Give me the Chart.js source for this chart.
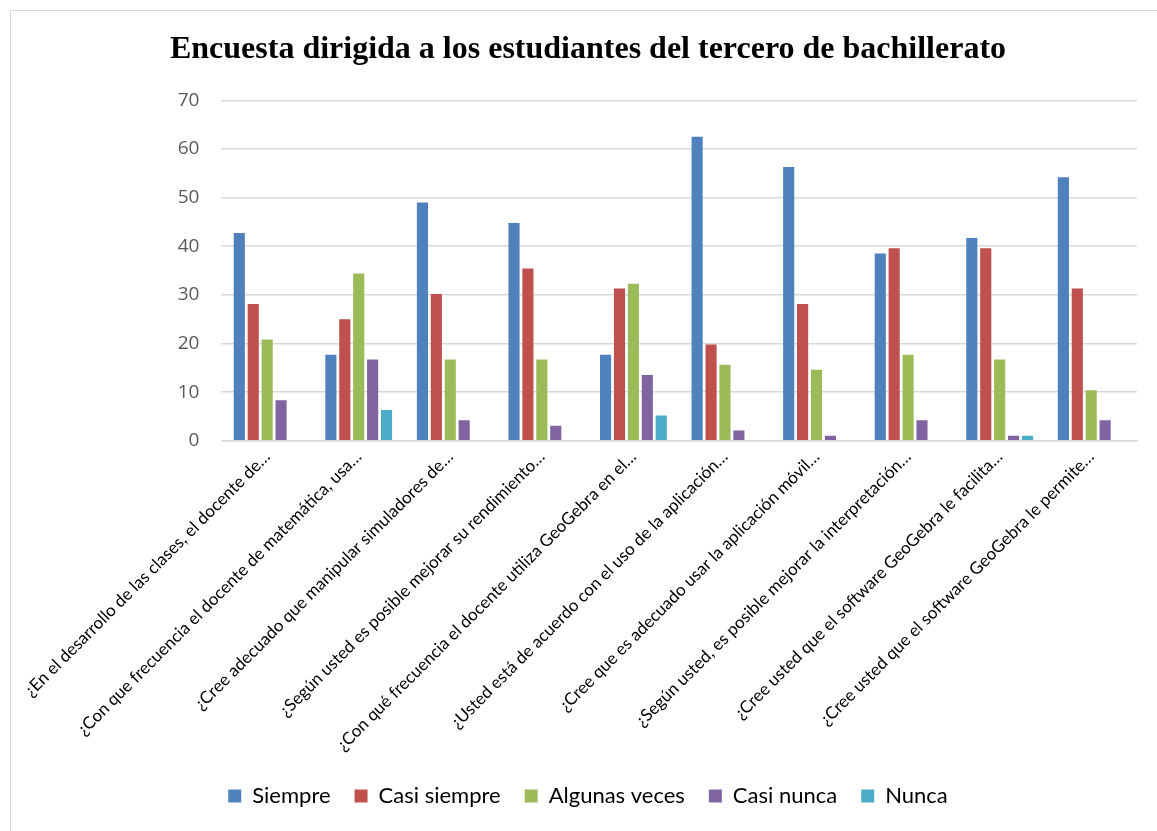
<!DOCTYPE html>
<html>
<head>
<meta charset="utf-8">
<script src="https://cdn.jsdelivr.net/npm/chart.js@4/dist/chart.umd.min.js"></script>
<style>
  html, body { margin: 0; padding: 0; background: #ffffff; overflow: hidden; }
  #frame { position: absolute; left: 10px; top: 10px; width: 1160px; height: 840px; border: 1px solid #D9D9D9; box-sizing: border-box; background: #fff; }
  #wrap { position: absolute; left: 0; top: 0; width: 1146px; height: 820px; }
</style>
</head>
<body>
<div id="frame"><div id="wrap"><canvas id="c"></canvas></div></div>
<script>
const categories = [
  "¿En el desarrollo de las clases, el docente de…",
  "¿Con que frecuencia el docente de matemática, usa…",
  "¿Cree adecuado que manipular simuladores de…",
  "¿Según usted es posible mejorar su rendimiento…",
  "¿Con qué frecuencia el docente utiliza GeoGebra en el…",
  "¿Usted está de acuerdo con el uso de la aplicación…",
  "¿Cree que es adecuado usar la aplicación móvil…",
  "¿Según usted, es posible mejorar la interpretación…",
  "¿Cree usted que el software GeoGebra le facilita…",
  "¿Cree usted que el software GeoGebra le permite…"
];
const seriesNames = ["Siempre", "Casi siempre", "Algunas veces", "Casi nunca", "Nunca"];
const siempre      = [42.7, 17.7, 49.0, 44.8, 17.7, 62.5, 56.3, 38.5, 41.7, 54.2];
const casiSiempre  = [28.1, 25.0, 30.2, 35.4, 31.3, 19.8, 28.1, 39.6, 39.6, 31.3];
const algunasVeces = [20.8, 34.4, 16.7, 16.7, 32.3, 15.6, 14.6, 17.7, 16.7, 10.4];
const casiNunca    = [8.3, 16.7, 4.2, 3.1, 13.5, 2.1, 1.0, 4.2, 1.0, 4.2];
const nunca        = [null, 6.3, null, null, 5.2, null, null, null, 1.0, null];
const yTicks = [0, 10, 20, 30, 40, 50, 60, 70];
const colors = ["#4F81BD", "#C0504D", "#9BBB59", "#8064A2", "#4BACC6"];
const seriesValues = [siempre, casiSiempre, algunasVeces, casiNunca, nunca];

const datasets = seriesNames.map((n, i) => ({
  label: n,
  data: seriesValues[i],
  backgroundColor: colors[i],
  borderWidth: 0,
  categoryPercentage: 0.76,
  barPercentage: 0.8
}));

new Chart(document.getElementById("c"), {
  type: "bar",
  data: { labels: categories, datasets },
  options: {
    responsive: true,
    maintainAspectRatio: false,
    animation: false,
    layout: { padding: { left: 28, right: 20, top: 20, bottom: 14 } },
    plugins: {
      title: {
        display: true,
        text: "Encuesta dirigida a los estudiantes del tercero de bachillerato",
        font: { family: "'Liberation Serif', 'Times New Roman', serif", size: 32, weight: "bold" },
        color: "#000000",
        padding: { top: 0, bottom: 31 }
      },
      legend: {
        position: "bottom",
        labels: {
          font: { family: "Lato, 'Open Sans', sans-serif", size: 22 },
          color: "#000000",
          boxWidth: 13,
          boxHeight: 13,
          padding: 24
        }
      },
      tooltip: { enabled: false }
    },
    scales: {
      x: {
        grid: { display: false, drawTicks: false },
        border: { display: true, color: "#D9D9D9", width: 1.5 },
        ticks: {
          autoSkip: false,
          maxRotation: 45,
          minRotation: 45,
          font: { family: "Lato, 'Open Sans', sans-serif", size: 17 },
          color: "#000000",
          padding: 6
        }
      },
      y: {
        min: 0,
        max: 70,
        afterBuildTicks: (s) => { s.ticks = yTicks.map(v => ({ value: v })); },
        afterFit: (s) => { s.width = 181; },
        grid: { color: "#D9D9D9", lineWidth: 1.5, drawTicks: false },
        border: { display: false },
        ticks: {
          font: { family: "'Open Sans', sans-serif", size: 19 },
          color: "#595959",
          padding: 22
        }
      }
    }
  }
});
</script>
</body>
</html>
